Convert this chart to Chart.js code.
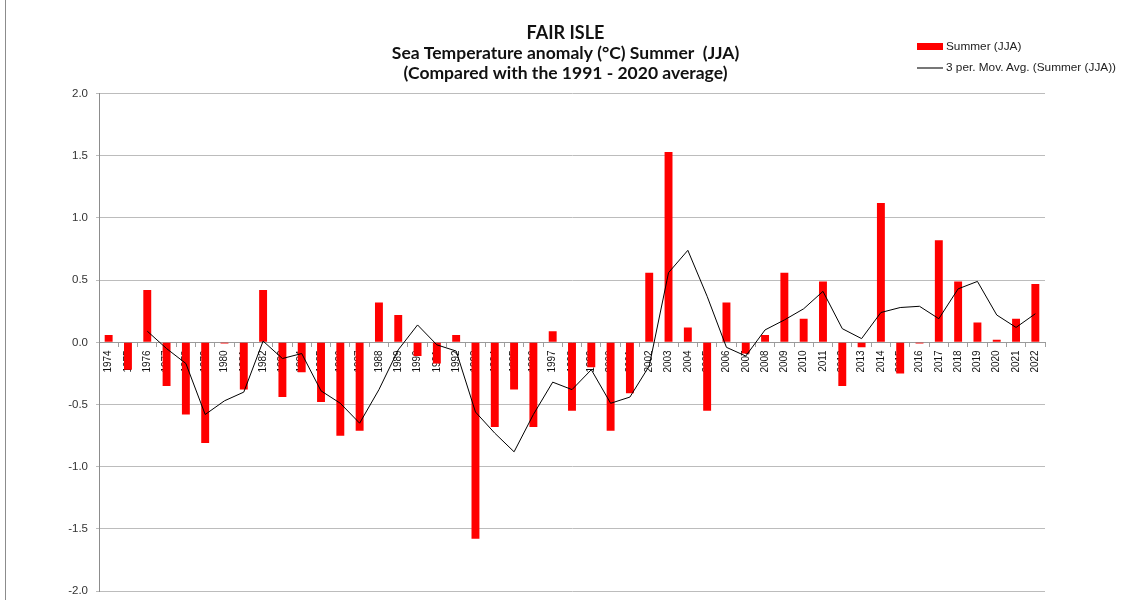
<!DOCTYPE html>
<html>
<head>
<meta charset="utf-8">
<script src="https://cdn.jsdelivr.net/npm/chart.js@4/dist/chart.umd.min.js"></script>
<style>
  html, body { margin: 0; padding: 0; background: #fff; overflow: hidden; }
  #wrap { position: relative; width: 1131px; height: 600px; overflow: hidden; }
  #c { display: block; }
  #frame { position: absolute; left: 5px; top: 0; width: 1px; height: 600px; background: #8c8c8c; }
  .leg { position: absolute; left: 917px; font: 11.8px "Liberation Sans", Arial, sans-serif; color: #222; white-space: nowrap; }
  .leg .sw { display: inline-block; vertical-align: middle; width: 26px; margin-right: 3px; }
</style>
</head>
<body>
<div id="wrap">
  <canvas id="c" width="1131" height="606"></canvas>
  <div id="frame"></div>
  <div class="leg" style="top:39px"><span class="sw" style="height:7px;background:#ff0000"></span>Summer (JJA)</div>
  <div class="leg" style="top:60px"><span class="sw" style="height:1.5px;background:#777"></span>3 per. Mov. Avg. (Summer (JJA))</div>
</div>
<script>
const years = ['1974','1975','1976','1977','1978','1979','1980','1981','1982','1983','1984','1985','1986','1987','1988','1989','1990','1991','1992','1993','1994','1995','1996','1997','1998','1999','2000','2001','2002','2003','2004','2005','2006','2007','2008','2009','2010','2011','2012','2013','2014','2015','2016','2017','2018','2019','2020','2021','2022'];
const summer = [0.06,-0.22,0.42,-0.35,-0.58,-0.81,-0.01,-0.38,0.42,-0.44,-0.24,-0.48,-0.75,-0.71,0.32,0.22,-0.11,-0.17,0.06,-1.58,-0.68,-0.38,-0.68,0.09,-0.55,-0.20,-0.71,-0.41,0.56,1.53,0.12,-0.55,0.32,-0.09,0.06,0.56,0.19,0.49,-0.35,-0.04,1.12,-0.25,-0.01,0.82,0.49,0.16,0.02,0.19,0.47];
const movAvg = [null,null,0.09,-0.05,-0.17,-0.58,-0.47,-0.40,0.01,-0.13,-0.09,-0.39,-0.49,-0.65,-0.38,-0.06,0.14,-0.02,-0.07,-0.56,-0.73,-0.88,-0.58,-0.32,-0.38,-0.22,-0.49,-0.44,-0.19,0.56,0.74,0.37,-0.04,-0.11,0.10,0.18,0.27,0.41,0.11,0.03,0.24,0.28,0.29,0.19,0.43,0.49,0.22,0.12,0.23];
const yTicks = [-2.0,-1.5,-1.0,-0.5,0.0,0.5,1.0,1.5,2.0];

new Chart(document.getElementById('c'), {
  type: 'bar',
  data: {
    labels: years,
    datasets: [
      { type: 'line', label: '3 per. Mov. Avg. (Summer (JJA))', data: movAvg, borderColor: '#000', borderWidth: 1, pointRadius: 0, fill: false, tension: 0, order: 0 },
      { label: 'Summer (JJA)', data: summer, backgroundColor: '#ff0000', barPercentage: 0.41, categoryPercentage: 1, order: 1 }
    ]
  },
  options: {
    responsive: false,
    animation: false,
    devicePixelRatio: 1,
    layout: { padding: { left: 0, right: 0, top: 0, bottom: 0 } },
    plugins: {
      legend: { display: false },
      tooltip: { enabled: false },
      title: { display: true, text: 'FAIR ISLE', color: '#111', font: { family: 'Lato', size: 18, weight: 'bold', lineHeight: 1.2 }, padding: { top: 22, bottom: 0 } },
      subtitle: { display: true, text: ['Sea Temperature anomaly (°C) Summer  (JJA)', '(Compared with the 1991 - 2020 average)'], color: '#111', font: { family: 'Lato', size: 17.5, weight: 'bold', lineHeight: '20px' }, padding: { top: 0, bottom: 10 } }
    },
    scales: {
      x: {
        position: { y: 0 },
        z: 1,
        offset: true,
        grid: { display: true, drawOnChartArea: false, drawTicks: true, tickLength: 4, offset: true, color: '#a0a0a0' },
        border: { display: true, color: '#9a9a9a', width: 1 },
        ticks: { autoSkip: false, minRotation: 90, maxRotation: 90, padding: 4, color: '#111', font: { family: 'Liberation Sans', size: 10 } }
      },
      y: {
        min: -2, max: 2,
        afterBuildTicks: s => { s.ticks = yTicks.map(v => ({ value: v })); },
        afterFit: s => { s.width = 99; },
        grid: { color: '#bcbcbc', lineWidth: 1, tickLength: 3 },
        border: { display: true, color: '#8c8c8c' },
        ticks: { padding: 8, color: '#333', font: { family: 'Liberation Sans', size: 11.5 }, callback: v => Number(v).toFixed(1) }
      },
      yPad: {
        position: 'right',
        min: -2, max: 2,
        afterFit: s => { s.width = 86; },
        grid: { display: false },
        border: { display: false },
        ticks: { display: false }
      }
    }
  }
});
</script>
</body>
</html>
